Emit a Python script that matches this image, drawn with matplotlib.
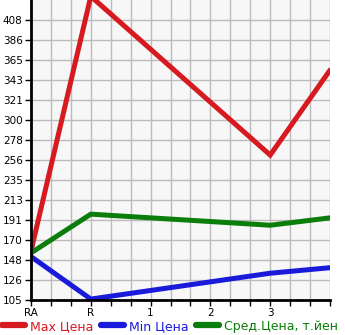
import numpy as np
import matplotlib
matplotlib.use('Agg')
import matplotlib.pyplot as plt
from matplotlib.lines import Line2D

# category positions: RA, R, 1, 2, 3, (last unlabeled)
x_labels = ['RA', 'R', '1', '2', '3']
x_pts = [0, 1, 4, 5]

max_price = [158, 434, 262, 354]
min_price = [152, 106, 134, 140]
avg_price = [156, 198, 186, 194]

y_labels = ['105', '126', '148', '170', '191', '213', '235', '256',
            '278', '300', '321', '343', '365', '386', '408']

y0, ystep = 105, 65 / 3

fig = plt.figure(figsize=(3.45, 3.35), dpi=100)
ax = fig.add_axes([31 / 345, 35 / 335, 299 / 345, 300 / 335])
ax.set_facecolor('#f7f7f7')

ax.set_xlim(0, 5)
ax.set_ylim(y0, y0 + 15 * ystep)

ax.set_xticks(np.arange(0, 5.01, 1 / 3), minor=True)
ax.set_xticks(range(len(x_labels)))
ax.set_xticklabels(x_labels)
ax.set_yticks([y0 + i * ystep for i in range(len(y_labels))])
ax.set_yticklabels(y_labels)
ax.grid(True, which='both', color='#bbbbbb', linewidth=1)
ax.set_axisbelow(True)

ax.tick_params(axis='both', labelsize=7.5, length=4, width=1, color='black', pad=2)
ax.tick_params(axis='x', which='minor', length=4, width=1)
for s in ['top', 'right']:
    ax.spines[s].set_visible(False)
for s in ['left', 'bottom']:
    ax.spines[s].set_linewidth(2)

kw = dict(linewidth=3.6, solid_capstyle='round', solid_joinstyle='miter', clip_on=True)
ax.plot(x_pts, max_price, color='#d71920', **kw)
ax.plot(x_pts, min_price, color='#1a1adb', **kw)
ax.plot(x_pts, avg_price, color='#0b7d0b', **kw)

handles = [Line2D([], [], color=c, linewidth=4.5, solid_capstyle='round')
           for c in ['#d71920', '#1a1adb', '#0b7d0b']]
leg = fig.legend(handles, ['Max Цена', 'Min Цена', 'Сред.Цена, т.йен'],
                 loc='lower left', bbox_to_anchor=(-0.012, -0.012), ncol=3, frameon=False,
                 fontsize=9, handlelength=1.8, handletextpad=0.45, columnspacing=0.6,
                 borderaxespad=0.1)
for t, c in zip(leg.get_texts(), ['#d71920', '#1a1adb', '#0b7d0b']):
    t.set_color(c)

fig.savefig('out.png', dpi=100)
